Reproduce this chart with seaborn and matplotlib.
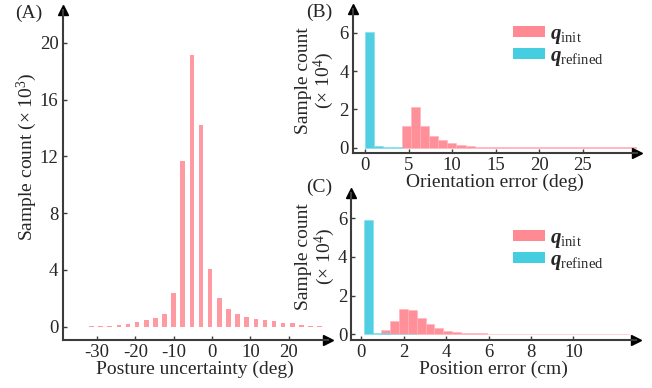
import numpy as np
import pandas as pd
import matplotlib
matplotlib.use("Agg")
import matplotlib.pyplot as plt
from matplotlib.patches import Patch
import seaborn as sns

# ---------------- data ----------------
# Panel A: posture uncertainty histogram (deg), counts in 1e3
a_bin_width = 2.38
a_centers = [-36.22, -33.84, -31.46, -29.08, -26.70, -24.32, -21.94, -19.56,
             -17.18, -14.80, -12.42, -10.04, -7.66, -5.28, -2.90, -0.52,
             1.86, 4.24, 6.62, 9.00, 11.38, 13.76, 16.14, 18.52, 20.90,
             23.28, 25.66, 28.04]
a_counts = [0.005, 0.01, 0.02, 0.04, 0.07, 0.12, 0.21, 0.33,
            0.47, 0.59, 0.91, 2.37, 11.65, 19.16, 14.23, 4.03,
            2.04, 1.24, 0.91, 0.66, 0.54, 0.49, 0.40, 0.28, 0.23,
            0.12, 0.05, 0.02]

# Panel B: orientation error (deg), counts in 1e4
b_bin_width = 1.05
b_init_first_bin = 4
b_init = [1.12, 2.14, 1.12, 0.61, 0.37, 0.23, 0.12, 0.07, 0.05, 0.04,
          0.035, 0.03, 0.03, 0.03, 0.025, 0.025, 0.02, 0.02, 0.02, 0.02,
          0.015, 0.015, 0.015, 0.01, 0.01, 0.01]
b_refined = [6.03, 0.10, 0.05, 0.02]

# Panel C: position error (cm), counts in 1e4
c_bin_start = 0.11
c_bin_width = 0.417
c_init_first_bin = 2
c_init = [0.24, 0.71, 1.29, 1.24, 0.83, 0.52, 0.31, 0.17, 0.10, 0.07,
          0.05, 0.045, 0.04, 0.035, 0.03, 0.03, 0.025, 0.025, 0.02, 0.02,
          0.015, 0.015, 0.01, 0.01, 0.005, 0.003, 0.002, 0.002]
c_refined = [5.9, 0.06, 0.05, 0.04, 0.03, 0.02]

PINK = "#FF8A94"
CYAN = "#45CDE0"
AXC = "#3c3c3c"

sns.set_style("ticks")
plt.rcParams["font.family"] = ["Liberation Serif", "DejaVu Serif"]
plt.rcParams["mathtext.fontset"] = "custom"
plt.rcParams["mathtext.rm"] = "Liberation Serif"
plt.rcParams["mathtext.it"] = "Liberation Serif:italic"
plt.rcParams["mathtext.bf"] = "Liberation Serif:bold:italic"
plt.rcParams["axes.unicode_minus"] = False

TICK_FS = 13.5
LAB_FS = 14

fig = plt.figure(figsize=(6.52, 3.88), dpi=100)
axA = fig.add_axes([0.096, 0.124, 0.407, 0.85])
axB = fig.add_axes([0.541, 0.606, 0.4356, 0.372])
axC = fig.add_axes([0.539, 0.124, 0.437, 0.378])


def hist_from(ax, centers, counts, width, color, shrink=1.0, alpha=0.95, lw=0.4, ec=None):
    centers = np.asarray(centers, float)
    edges = list(np.concatenate([centers - width / 2, [centers[-1] + width / 2]]))
    df = pd.DataFrame({"x": centers, "w": counts})
    sns.histplot(data=df, x="x", weights="w", bins=edges, ax=ax, color=color,
                 alpha=alpha, shrink=shrink, edgecolor=ec if ec else color,
                 linewidth=lw, legend=False)


def style_axes(ax):
    for s in ["top", "right"]:
        ax.spines[s].set_visible(False)
    for s in ["left", "bottom"]:
        ax.spines[s].set_color(AXC)
        ax.spines[s].set_linewidth(1.5)
    ax.tick_params(direction="in", length=3, width=1, color=AXC,
                   labelsize=TICK_FS, pad=3)
    ax.plot(0, 1, "^", color="black", markersize=7, transform=ax.transAxes,
            clip_on=False)
    ax.plot(1, 0, ">", color="black", markersize=7, transform=ax.transAxes,
            clip_on=False)


# ---- Panel A ----
hist_from(axA, a_centers, a_counts, a_bin_width, "#FF949D", shrink=0.5,
          alpha=0.95, lw=0)
axA.set_xlim(-39, 30.2)
axA.set_ylim(-0.93, 22.3)
axA.set_xticks([-30, -20, -10, 0, 10, 20])
axA.set_yticks([0, 4, 8, 12, 16, 20])
axA.set_xlabel("Posture uncertainty (deg)", fontsize=LAB_FS, labelpad=0)
axA.set_ylabel("Sample count ($\\times$ 10$^3$)", fontsize=LAB_FS)
axA.yaxis.set_label_coords(-0.088, 0.555)
style_axes(axA)

# ---- Panel B ----
b_init_c = [(b_init_first_bin + i + 0.5) * b_bin_width for i in range(len(b_init))]
b_ref_c = [(i + 0.5) * b_bin_width for i in range(len(b_refined))]
hist_from(axB, b_init_c, b_init, b_bin_width, PINK, alpha=0.95, ec="#FFB3BA")
hist_from(axB, b_ref_c, b_refined, b_bin_width, CYAN, alpha=0.95, ec="#7FDDEA")
axB.set_xlim(-1.41, 31.2)
axB.set_ylim(-0.28, 7.28)
axB.set_xticks([0, 5, 10, 15, 20, 25])
axB.set_yticks([0, 2, 4, 6])
axB.set_xlabel("Orientation error (deg)", fontsize=LAB_FS, labelpad=0)
axB.set_ylabel("Sample count\n($\\times$ 10$^4$)", fontsize=LAB_FS, labelpad=2,
               linespacing=1.0)
style_axes(axB)

# ---- Panel C ----
c_init_c = [c_bin_start + (c_init_first_bin + i + 0.5) * c_bin_width for i in range(len(c_init))]
c_ref_c = [c_bin_start + (i + 0.5) * c_bin_width for i in range(len(c_refined))]
hist_from(axC, c_init_c, c_init, c_bin_width, PINK, alpha=0.95, ec="#FFB3BA")
hist_from(axC, c_ref_c, c_refined, c_bin_width, CYAN, alpha=0.95, ec="#7FDDEA")
axC.set_xlim(-0.47, 12.97)
axC.set_ylim(-0.29, 7.29)
axC.set_xticks([0, 2, 4, 6, 8, 10])
axC.set_yticks([0, 2, 4, 6])
axC.set_xlabel("Position error (cm)", fontsize=LAB_FS, labelpad=0)
axC.set_ylabel("Sample count\n($\\times$ 10$^4$)", fontsize=LAB_FS,
               linespacing=1.0)
axC.yaxis.set_label_coords(-0.052, 0.566)
style_axes(axC)

# legends
handles = [Patch(facecolor=PINK, edgecolor="none"),
           Patch(facecolor=CYAN, edgecolor="none")]
labels = ["$\\mathbf{q}_{\\mathrm{init}}$", "$\\mathbf{q}_{\\mathrm{refined}}$"]
for ax, anchor in [(axB, (0.564, 0.888)), (axC, (0.567, 0.755))]:
    ax.legend(handles, labels, loc="upper left", bbox_to_anchor=anchor,
              frameon=False, fontsize=15, handlelength=1.56, handleheight=0.4,
              handletextpad=0.2, labelspacing=0.05, borderpad=0, borderaxespad=0)

# panel letters
fig.text(15 / 652, 1 - 13 / 388, "(A)", fontsize=14, va="center", ha="left")
fig.text(306 / 652, 1 - 12 / 388, "(B)", fontsize=14, va="center", ha="left")
fig.text(306 / 652, 1 - 187 / 388, "(C)", fontsize=14, va="center", ha="left")

fig.savefig("out.png", dpi=100)
